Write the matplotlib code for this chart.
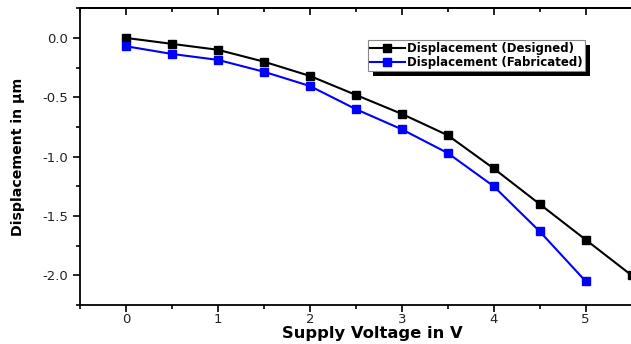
import matplotlib.pyplot as plt
from matplotlib.ticker import MultipleLocator, NullFormatter
from matplotlib.patches import Rectangle

# supply voltage in V
voltage = [0, 0.5, 1, 1.5, 2, 2.5, 3, 3.5, 4, 4.5, 5, 5.5]
voltage_fab = [0, 0.5, 1, 1.5, 2, 2.5, 3, 3.5, 4, 4.5, 5]

# displacement in um
disp_designed = [0.0, -0.05, -0.10, -0.20, -0.32, -0.48, -0.64, -0.82, -1.10, -1.40, -1.70, -2.00]
disp_fabricated = [-0.07, -0.135, -0.185, -0.285, -0.405, -0.60, -0.77, -0.97, -1.25, -1.63, -2.05]

x_ticks = [0, 1, 2, 3, 4, 5]
y_ticks = [0.0, -0.5, -1.0, -1.5, -2.0]
y_ticklabels = ['0.0', '-0.5', '-1.0', '-1.5', '-2.0']

plt.rcParams['font.family'] = ['DejaVu Sans']

fig = plt.figure(figsize=(6.31, 3.44), dpi=100)
ax = fig.add_axes([0.1268, 0.1134, 0.8742, 0.8626])

ax.plot(voltage, disp_designed, color='black', marker='s', markersize=5.5,
        linewidth=1.5, label='Displacement (Designed)', clip_on=False)
ax.plot(voltage_fab, disp_fabricated, color='blue', marker='s', markersize=5.5,
        linewidth=1.5, label='Displacement (Fabricated)')

ax.set_xlim(-0.5, 5.5)
ax.set_ylim(-2.25, 0.25)
ax.set_xticks(x_ticks)
ax.xaxis.set_minor_locator(MultipleLocator(0.5))
ax.set_yticks(y_ticks)
ax.set_yticklabels(y_ticklabels)
ax.yaxis.set_minor_locator(MultipleLocator(0.25))

ax.tick_params(which='both', direction='out', top=False, right=False,
               labelsize=9.5, labelcolor='#222222', width=1.2)
ax.tick_params(which='major', length=5)
ax.tick_params(which='minor', length=3)
ax.tick_params(axis='x', pad=1)

# ticks on the top spine point into the plot
top = ax.secondary_xaxis('top')
top.set_xticks(x_ticks)
top.xaxis.set_minor_locator(MultipleLocator(0.5))
top.xaxis.set_major_formatter(NullFormatter())
top.tick_params(which='both', direction='in', width=1.2)
top.tick_params(which='major', length=5)
top.tick_params(which='minor', length=3)
top.spines['top'].set_linewidth(1.3)

ax.spines['right'].set_visible(False)
for s in ['left', 'bottom', 'top']:
    ax.spines[s].set_linewidth(1.3)

ax.set_xlabel('Supply Voltage in V', fontsize=11.8, fontweight='bold')
ax.xaxis.set_label_coords(0.529, -0.071)
ax.set_ylabel('Displacement in \u03bcm', fontsize=10.2, fontweight='bold')
ax.yaxis.set_label_coords(-0.1, 0.5)

leg = ax.legend(loc='upper left', bbox_to_anchor=(0.522, 0.893),
                prop={'weight': 'bold', 'size': 8.5}, frameon=True, fancybox=False,
                borderpad=0.2, handlelength=2.9, handletextpad=0.2,
                labelspacing=0.05, borderaxespad=0, framealpha=1)
leg.get_frame().set_edgecolor('#888888')
leg.get_frame().set_linewidth(0.8)

# hard black shadow behind the legend box
fig.canvas.draw()
bb = leg.get_frame().get_window_extent()
shadow = Rectangle((bb.x0 + 5, bb.y0 - 5), bb.width, bb.height, transform=None,
                   facecolor='black', edgecolor='none', zorder=4.5)
ax.add_artist(shadow)

fig.savefig('out.png', dpi=100)
